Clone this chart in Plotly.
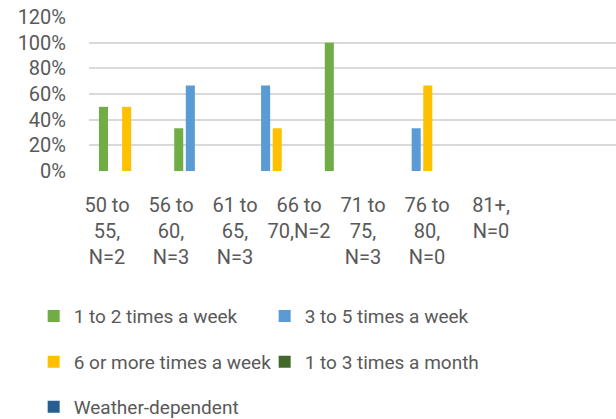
import plotly.graph_objects as go

# age groups (x categories) and their wrapped tick labels
age_groups = ["50-55", "56-60", "61-65", "66-70", "71-75", "76-80", "81+"]
age_labels = ["50 to<br>55,<br>N=2", "56 to<br>60,<br>N=3", "61 to<br>65,<br>N=3",
              "66 to<br>70,N=2", "71 to<br>75,<br>N=3", "76 to<br>80,<br>N=0",
              "81+,<br>N=0"]

# share of respondents per frequency
once_twice_week = [0.50, 0.333, 0.0, 1.00, 0.0, 0.0, 0.0]
three_five_week = [0.0, 0.667, 0.667, 0.0, 0.333, 0.0, 0.0]
six_plus_week = [0.50, 0.0, 0.333, 0.0, 0.667, 0.0, 0.0]
one_three_month = [0.0, 0.0, 0.0, 0.0, 0.0, 0.0, 0.0]
weather_dependent = [0.0, 0.0, 0.0, 0.0, 0.0, 0.0, 0.0]

series = [
    ("1 to 2 times a week", once_twice_week, "#70AD47", "legend"),
    ("3 to 5 times a week", three_five_week, "#5B9BD5", "legend"),
    ("6 or more times a week", six_plus_week, "#FFC000", "legend2"),
    ("1 to 3 times a month", one_three_month, "#43682B", "legend2"),
    ("Weather-dependent", weather_dependent, "#255E91", "legend3"),
]

FONT = "Roboto, Arial, sans-serif"
GREY = "#595959"

fig = go.Figure()
for name, vals, color, leg in series:
    fig.add_trace(go.Bar(x=age_groups, y=vals, name=name, legend=leg,
                         marker=dict(color=color, line_width=0)))

# invisible trace carrying the category tick labels
fig.add_trace(go.Scatter(x=age_labels, y=[0] * len(age_labels), xaxis="x2",
                         mode="markers", marker=dict(opacity=0),
                         showlegend=False, hoverinfo="skip"))

leg_common = dict(orientation="h", xanchor="left", yanchor="middle", x=-0.105,
                  font=dict(family=FONT, size=19, color=GREY),
                  entrywidth=186, entrywidthmode="pixels", itemwidth=30,
                  bgcolor="rgba(0,0,0,0)")

fig.update_layout(
    width=616, height=419,
    margin=dict(l=89, r=0, t=17, b=248, autoexpand=False),
    plot_bgcolor="white", paper_bgcolor="white",
    barmode="group", bargap=0.23, bargroupgap=0.22,
    font=dict(family=FONT, color=GREY),
    xaxis=dict(showticklabels=False, showgrid=False, zeroline=False,
               showline=False, ticks="", automargin=False),
    xaxis2=dict(overlaying="x", anchor="y", side="bottom", type="category",
                categoryorder="array", categoryarray=age_labels,
                range=[-0.281, 7.953], showgrid=False, zeroline=False,
                showline=False, ticks="", ticklabelstandoff=20,
                automargin=False,
                tickfont=dict(family=FONT, size=20, color=GREY)),
    yaxis=dict(range=[0, 1.2], dtick=0.2, tickformat=".0%",
               showgrid=True, gridcolor="#D9D9D9", gridwidth=1.5,
               zeroline=False, showline=False, ticks="",
               ticklabelstandoff=22, automargin=False,
               tickfont=dict(family=FONT, size=20, color=GREY)),
    legend=dict(leg_common, y=-0.942),
    legend2=dict(leg_common, y=-1.240),
    legend3=dict(leg_common, y=-1.532),
)

# drop the default body margin so the figure sits at the page corner
fig.write_html("out.html", config={"displayModeBar": False},
               post_script="document.body.style.margin='0';")
